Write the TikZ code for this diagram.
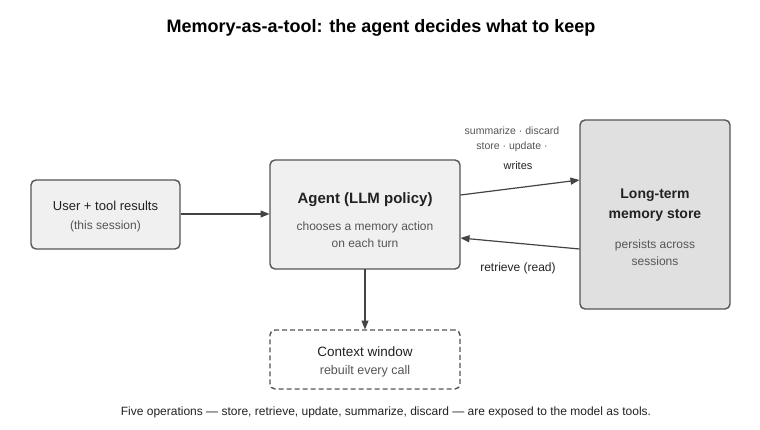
\documentclass[tikz,border=0pt]{standalone}
\usepackage{fontspec}
\setmainfont{Liberation Sans}
\usetikzlibrary{arrows.meta}
\definecolor{edge}{HTML}{555555}
\definecolor{txt}{HTML}{222222}
\definecolor{sub}{HTML}{555555}
\definecolor{fillA}{HTML}{F0F0F0}
\definecolor{fillB}{HTML}{E0E0E0}
\tikzset{
  box/.style={draw=edge, line width=1.4pt, rounded corners=5pt, fill=fillA, inner sep=0pt},
  conn/.style={draw=txt!85, line width=1.2pt, -{Triangle[length=9pt,width=7pt]}},
  lbl/.style={text=txt, font=\fontsize{11}{13}\selectfont, align=center},
  sublbl/.style={text=sub, font=\fontsize{12}{17}\selectfont, align=center},
}
\begin{document}
\begin{tikzpicture}[x=1pt,y=-1pt]
\useasboundingbox (0,0) rectangle (760,430);
\node[text=black, font=\bfseries\fontsize{18}{21}\selectfont] (title) at (381,28) {Memory-as-a-tool: the agent decides what to keep};

\node[box, minimum width=149pt, minimum height=69pt] (user) at (105.5,214.5) {};
\node[text=txt, font=\fontsize{13}{15}\selectfont] (usert) at (105.5,206) {User + tool results};
\node[sublbl] (users) at (105.5,226) {(this session)};

\node[box, minimum width=190pt, minimum height=109pt] (agent) at (365,214.5) {};
\node[text=txt, font=\bfseries\fontsize{15}{17}\selectfont] (agentt) at (365,200) {Agent (LLM policy)};
\node[sublbl] (agents) at (365,235) {chooses a memory action\\on each turn};

\node[box, fill=fillB, minimum width=150pt, minimum height=189pt] (mem) at (655,214.5) {};
\node[text=txt, font=\bfseries\fontsize{14}{20}\selectfont, align=center] (memt) at (655,205) {Long-term\\memory store};
\node[sublbl] (mems) at (655,253) {persists across\\sessions};

\node[box, fill=white, dashed, dash pattern=on 5pt off 3pt, minimum width=190pt, minimum height=59pt] (ctx) at (365,359.5) {};
\node[text=txt, font=\fontsize{13.5}{15}\selectfont] (ctxt) at (365,352) {Context window};
\node[sublbl, font=\fontsize{12.5}{14}\selectfont] (ctxs) at (365,371) {rebuilt every call};

\coordinate (u1) at (180.5,214);
\coordinate (a1) at (269.5,214);
\draw[conn] (u1) -- (a1);

\coordinate (w0) at (460.5,195);
\coordinate (w1) at (579.5,180);
\draw[conn] (w0) -- (w1);

\coordinate (r0) at (579.5,249);
\coordinate (r1) at (460.5,238);
\draw[conn] (r0) -- (r1);

\coordinate (c0) at (365,269.5);
\coordinate (c1) at (365,329.5);
\draw[conn] (c0) -- (c1);

\node[sublbl, font=\fontsize{10.5}{15}\selectfont] (ops) at (512,139.5) {summarize · discard\\store · update ·};
\node[lbl] (writes) at (518,166) {writes};
\node[lbl, font=\fontsize{12}{14}\selectfont] (retr) at (518,268) {retrieve (read)};

\node[text=txt, font=\fontsize{12}{14}\selectfont] (foot) at (386,412) {Five operations — store, retrieve, update, summarize, discard — are exposed to the model as tools.};
\end{tikzpicture}
\end{document}
